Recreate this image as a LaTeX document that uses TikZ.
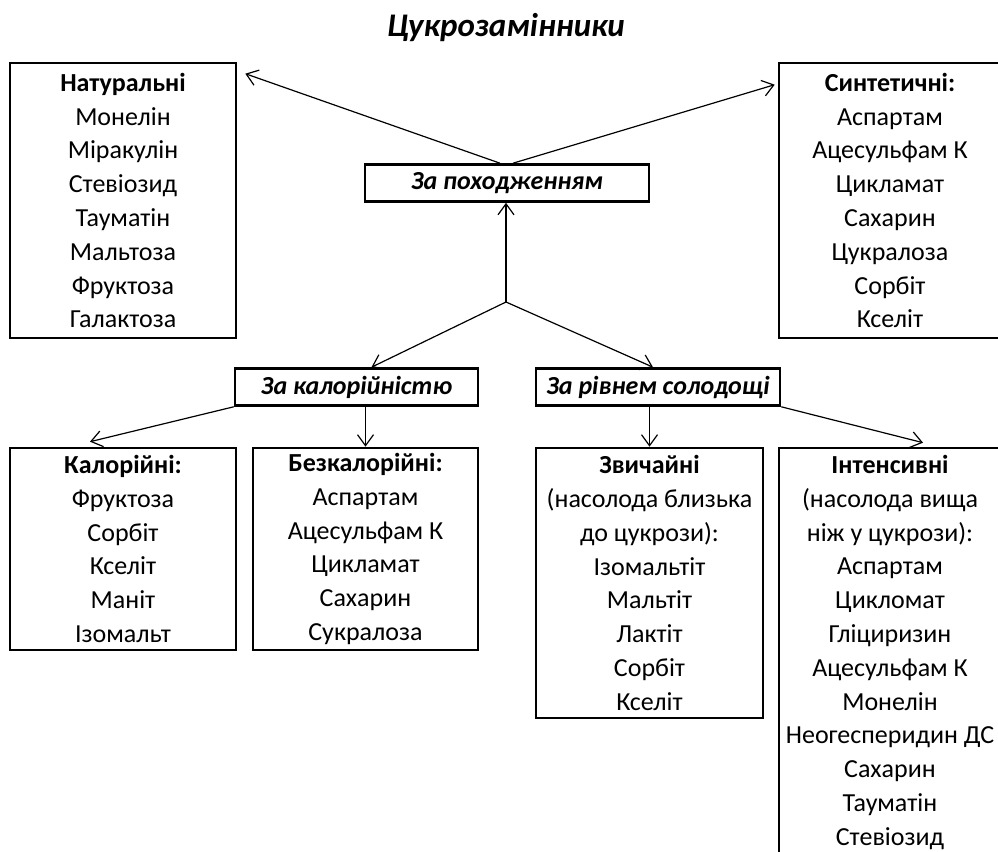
\documentclass[tikz,border=0pt]{standalone}
\usepackage{fontspec}
\setmainfont{Carlito}
\usetikzlibrary{arrows.meta}
\begin{document}
\begin{tikzpicture}[x=1pt,y=-1pt,
  listbox/.style={draw,line width=2.6pt,align=center,inner sep=0pt,font=\fontsize{26}{33.8}\selectfont},
  groupbox/.style={draw,line width=2.6pt,inner sep=0pt,minimum height=37pt,font=\fontsize{26}{30}\selectfont\bfseries\itshape},
  arr/.style={-{Straight Barb[length=11pt,width=16pt]},line width=1.2pt}]
  \clip (0,0) rectangle (998,851);

  % Title
  \node[font=\fontsize{33}{36}\selectfont\bfseries\itshape] (Title) at (506,28) {Цукрозамінники};

  % За походженням
  \node[groupbox,minimum width=284pt] (ZaPokhodzhenniam) at (507,183) {За походженням};
  \node[listbox,minimum width=226pt,minimum height=275pt] (Naturalni) at (123,200.5)
    {\textbf{Натуральні}\\Монелін\\Міракулін\\Стевіозид\\Тауматін\\Мальтоза\\Фруктоза\\Галактоза};
  \node[listbox,minimum width=222pt,minimum height=275pt] (Syntetychni) at (890,200.5)
    {\textbf{Синтетичні:}\\Аспартам\\Ацесульфам К\\Цикламат\\Сахарин\\Цукралоза\\Сорбіт\\Кселіт};

  \draw[arr] ([xshift=-7pt]ZaPokhodzhenniam.north) to ([shift={(8,12)}]Naturalni.north east);
  \draw[arr] ([xshift=6pt]ZaPokhodzhenniam.north) to ([shift={(-3,23)}]Syntetychni.north west);

  % Розгалуження
  \coordinate (Junction) at (506,302);
  \draw[arr] (Junction) to (Junction |- ZaPokhodzhenniam.south);

  % За калорійністю
  \node[groupbox,minimum width=243pt] (ZaKaloriinistiu) at (356.5,387) {За калорійністю};
  \node[listbox,minimum width=226pt,minimum height=202pt] (Kaloriini) at (123,549)
    {\textbf{Калорійні:}\\Фруктоза\\Сорбіт\\Кселіт\\Маніт\\Ізомальт};
  \node[listbox,minimum width=225pt,minimum height=202pt] (Bezkaloriini) at (365.5,549)
    {\textbf{Безкалорійні:}\\Аспартам\\Ацесульфам К\\Цикламат\\Сахарин\\Сукралоза};

  \draw[arr] (Junction) to ([xshift=15pt]ZaKaloriinistiu.north);
  \draw[arr] (ZaKaloriinistiu.south west) to ([shift={(-33,-5)}]Kaloriini.north);
  \draw[arr] (ZaKaloriinistiu.south -| Bezkaloriini.north) to (Bezkaloriini.north);

  % За рівнем солодощі
  \node[groupbox,minimum width=244pt] (ZaRivnem) at (658,387) {За рівнем солодощі};
  \node[listbox,minimum width=227pt,minimum height=270pt] (Zvychaini) at (649.5,583)
    {\textbf{Звичайні}\\(насолода близька\\до цукрози):\\Ізомальтіт\\Мальтіт\\Лактіт\\Сорбіт\\Кселіт};
  \node[listbox,minimum width=222pt,minimum height=409pt] (Intensyvni) at (890,652.5)
    {\textbf{Інтенсивні}\\(насолода вища\\ніж у цукрози):\\Аспартам\\Цикломат\\Гліциризин\\Ацесульфам К\\Монелін\\Неогесперидин ДС\\Сахарин\\Тауматін\\Стевіозид};

  \draw[arr] (Junction) to ([xshift=-5pt]ZaRivnem.north);
  \draw[arr] (ZaRivnem.south -| Zvychaini.north) to (Zvychaini.north);
  \draw[arr] (ZaRivnem.south east) to ([shift={(33,-4)}]Intensyvni.north);

\end{tikzpicture}
\end{document}
